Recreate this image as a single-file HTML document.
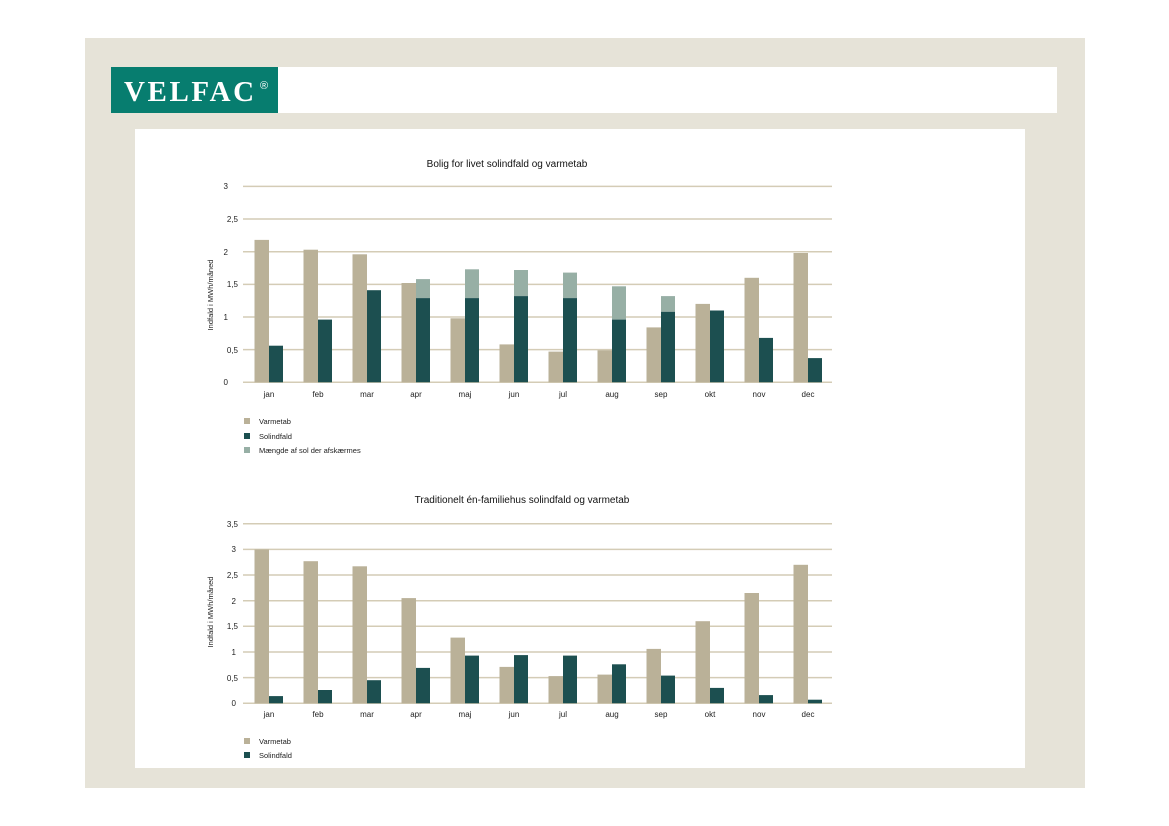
<!DOCTYPE html>
<html><head><meta charset="utf-8"><style>
body{margin:0;background:#fff;}
svg{display:block;font-family:"Liberation Sans",sans-serif;}
</style></head><body>
<svg width="1169" height="826" viewBox="0 0 1169 826" xmlns="http://www.w3.org/2000/svg">
<rect x="0" y="0" width="1169" height="826" fill="#fff"/>
<rect x="85" y="38" width="1000" height="750" fill="#e6e3d8"/>
<rect x="278" y="67" width="779" height="46" fill="#fff"/>
<rect x="111" y="67" width="167" height="46" fill="#077d6f"/>
<text x="124" y="101" font-family="Liberation Serif,serif" font-weight="bold" font-size="29" fill="#fff" letter-spacing="2.6">VELFAC</text>
<text x="260" y="89" font-size="11" fill="#fff">®</text>
<rect x="135" y="129" width="890" height="639" fill="#fff"/>

<g stroke="#d4ccb6" stroke-width="1.5">
<line x1="243" x2="832" y1="186.4" y2="186.4"/><line x1="243" x2="832" y1="219" y2="219"/><line x1="243" x2="832" y1="251.7" y2="251.7"/><line x1="243" x2="832" y1="284.4" y2="284.4"/><line x1="243" x2="832" y1="317" y2="317"/><line x1="243" x2="832" y1="349.6" y2="349.6"/><line x1="243" x2="832" y1="382.3" y2="382.3"/>
<line x1="243" x2="832" y1="523.7" y2="523.7"/><line x1="243" x2="832" y1="549.4" y2="549.4"/><line x1="243" x2="832" y1="575" y2="575"/><line x1="243" x2="832" y1="600.7" y2="600.7"/><line x1="243" x2="832" y1="626.3" y2="626.3"/><line x1="243" x2="832" y1="652" y2="652"/><line x1="243" x2="832" y1="677.6" y2="677.6"/><line x1="243" x2="832" y1="703.3" y2="703.3"/>
</g>

<g font-size="8" fill="#222" text-anchor="end">
<text x="228" y="189">3</text><text x="238" y="222">2,5</text><text x="228" y="255">2</text><text x="238" y="287">1,5</text><text x="228" y="320">1</text><text x="238" y="353">0,5</text><text x="228" y="385">0</text>
<text x="238" y="527">3,5</text><text x="236" y="552">3</text><text x="238" y="578">2,5</text><text x="236" y="604">2</text><text x="238" y="629">1,5</text><text x="236" y="655">1</text><text x="238" y="681">0,5</text><text x="236" y="706">0</text>
</g>
<text transform="translate(213,295) rotate(-90)" font-size="7.5" fill="#222" text-anchor="middle">Indfald i MWh/måned</text>
<text transform="translate(213,612) rotate(-90)" font-size="7.5" fill="#222" text-anchor="middle">Indfald i MWh/måned</text>
<text x="507" y="167" font-size="10" fill="#111" text-anchor="middle">Bolig for livet solindfald og varmetab</text>
<text x="522" y="503" font-size="10" fill="#111" text-anchor="middle">Traditionelt  én-familiehus solindfald og varmetab</text>

<g fill="#bab198">
<rect x="254.5" y="239.9" width="14.5" height="142.4"/><rect x="303.5" y="249.7" width="14.5" height="132.6"/><rect x="352.5" y="254.3" width="14.5" height="128"/><rect x="401.5" y="283" width="14.5" height="99.3"/><rect x="450.5" y="318.3" width="14.5" height="64"/><rect x="499.5" y="344.4" width="14.5" height="37.9"/><rect x="548.5" y="351.6" width="14.5" height="30.7"/><rect x="597.5" y="350.3" width="14.5" height="32"/><rect x="646.5" y="327.4" width="14.5" height="54.9"/><rect x="695.5" y="303.9" width="14.5" height="78.4"/><rect x="744.5" y="277.8" width="14.5" height="104.5"/><rect x="793.5" y="253" width="14.5" height="129.3"/>
<rect x="254.5" y="549.4" width="14.5" height="153.9"/><rect x="303.5" y="561.2" width="14.5" height="142.1"/><rect x="352.5" y="566.3" width="14.5" height="137"/><rect x="401.5" y="598.1" width="14.5" height="105.2"/><rect x="450.5" y="637.6" width="14.5" height="65.7"/><rect x="499.5" y="666.9" width="14.5" height="36.4"/><rect x="548.5" y="676.1" width="14.5" height="27.2"/><rect x="597.5" y="674.6" width="14.5" height="28.7"/><rect x="646.5" y="648.9" width="14.5" height="54.4"/><rect x="695.5" y="621.2" width="14.5" height="82.1"/><rect x="744.5" y="593" width="14.5" height="110.3"/><rect x="793.5" y="564.8" width="14.5" height="138.5"/>
<rect x="244" y="418" width="6" height="6"/><rect x="244" y="738" width="6" height="6"/>
</g>
<g fill="#97afa5">
<rect x="416" y="279.1" width="14" height="19"/><rect x="465" y="269.3" width="14" height="28.8"/><rect x="514" y="270" width="14" height="26.1"/><rect x="563" y="272.6" width="14" height="25.5"/><rect x="612" y="286.3" width="14" height="33.3"/><rect x="661" y="296.1" width="14" height="15.7"/>
<rect x="244" y="447" width="6" height="6"/>
</g>
<g fill="#1c4f50">
<rect x="269" y="345.7" width="14" height="36.6"/><rect x="318" y="319.6" width="14" height="62.7"/><rect x="367" y="290.2" width="14" height="92.1"/><rect x="416" y="298.1" width="14" height="84.2"/><rect x="465" y="298.1" width="14" height="84.2"/><rect x="514" y="296.1" width="14" height="86.2"/><rect x="563" y="298.1" width="14" height="84.2"/><rect x="612" y="319.6" width="14" height="62.7"/><rect x="661" y="311.8" width="14" height="70.5"/><rect x="710" y="310.5" width="14" height="71.8"/><rect x="759" y="337.9" width="14" height="44.4"/><rect x="808" y="358.1" width="14" height="24.2"/>
<rect x="269" y="696.1" width="14" height="7.2"/><rect x="318" y="690" width="14" height="13.3"/><rect x="367" y="680.2" width="14" height="23.1"/><rect x="416" y="667.9" width="14" height="35.4"/><rect x="465" y="655.6" width="14" height="47.7"/><rect x="514" y="655.1" width="14" height="48.2"/><rect x="563" y="655.6" width="14" height="47.7"/><rect x="612" y="664.3" width="14" height="39"/><rect x="661" y="675.6" width="14" height="27.7"/><rect x="710" y="687.9" width="14" height="15.4"/><rect x="759" y="695.1" width="14" height="8.2"/><rect x="808" y="699.7" width="14" height="3.6"/>
<rect x="244" y="433" width="6" height="6"/><rect x="244" y="752" width="6" height="6"/>
</g>

<g font-size="8" fill="#222" text-anchor="middle">
<text x="269" y="397">jan</text><text x="318" y="397">feb</text><text x="367" y="397">mar</text><text x="416" y="397">apr</text><text x="465" y="397">maj</text><text x="514" y="397">jun</text><text x="563" y="397">jul</text><text x="612" y="397">aug</text><text x="661" y="397">sep</text><text x="710" y="397">okt</text><text x="759" y="397">nov</text><text x="808" y="397">dec</text>
<text x="269" y="717">jan</text><text x="318" y="717">feb</text><text x="367" y="717">mar</text><text x="416" y="717">apr</text><text x="465" y="717">maj</text><text x="514" y="717">jun</text><text x="563" y="717">jul</text><text x="612" y="717">aug</text><text x="661" y="717">sep</text><text x="710" y="717">okt</text><text x="759" y="717">nov</text><text x="808" y="717">dec</text>
</g>
<g font-size="7.5" fill="#222">
<text x="259" y="424">Varmetab</text><text x="259" y="439">Solindfald</text><text x="259" y="453">Mængde af sol der afskærmes</text>
<text x="259" y="744">Varmetab</text><text x="259" y="758">Solindfald</text>
</g>
</svg>
</body></html>
